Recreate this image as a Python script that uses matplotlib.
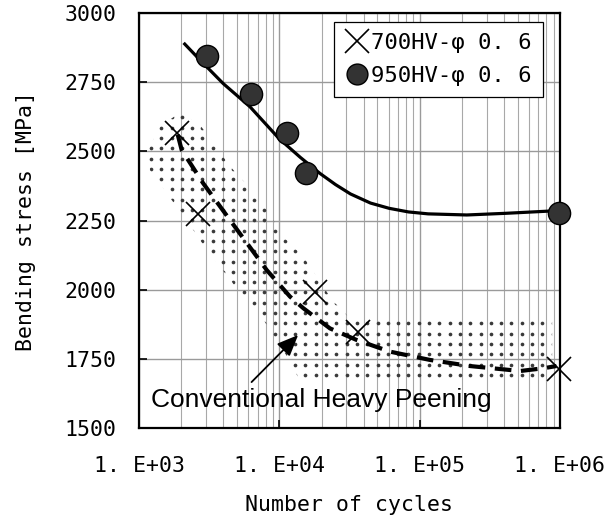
import numpy as np
import matplotlib.pyplot as plt
from matplotlib.ticker import FixedLocator, NullFormatter
from matplotlib.lines import Line2D

# 950HV-φ0.6 (circles)
hv950_n = [3050, 6250, 11250, 15450, 980000]
hv950_s = [2845, 2708, 2566, 2421, 2278]
# 950HV trend curve
hv950_fit_logn = [3.318, 3.435, 3.60, 3.791, 4.0, 4.15, 4.29, 4.40, 4.507, 4.65, 4.783,
                  4.92, 5.06, 5.336, 5.613, 6.0]
hv950_fit_s = [2892, 2830, 2745, 2661, 2545, 2478, 2420, 2380, 2346, 2313, 2294,
               2281, 2274, 2270, 2276, 2286]

# 700HV-φ0.6 (crosses)
hv700_n = [1860, 2650, 17950, 36500, 980000]
hv700_s = [2565, 2273, 1993, 1848, 1713]
# 700HV trend curve (dashed)
hv700_fit_logn = [3.276, 3.304, 3.458, 3.684, 3.910, 4.076, 4.171, 4.361, 4.552, 4.789,
                  5.074, 5.359, 5.716, 5.882, 5.975]
hv700_fit_s = [2560, 2505, 2384, 2227, 2071, 1975, 1933, 1860, 1818, 1776,
               1746, 1724, 1706, 1716, 1724]

# conventional heavy peening scatter band (outline, log10 N / stress)
band_logn = [3.066, 3.15, 3.292, 3.435, 3.506, 3.589, 3.661, 3.791, 3.886, 3.957,
             4.017, 4.171, 4.242, 4.385, 4.456, 4.504, 5.944, 5.944, 4.148, 4.088,
             3.946, 3.875, 3.732, 3.661, 3.577, 3.435, 3.34, 3.233, 3.15, 3.078]
band_s = [2505, 2590, 2640, 2595, 2547, 2487, 2439, 2366, 2306, 2252,
          2197, 2119, 2065, 1956, 1925, 1890, 1890, 1666, 1666, 1734,
          1842, 1902, 1975, 2029, 2083, 2179, 2252, 2324, 2384, 2432]

x_ticks = [1e3, 1e4, 1e5, 1e6]
x_labels = ["1. E+03", "1. E+04", "1. E+05", "1. E+06"]
y_ticks = [1500, 1750, 2000, 2250, 2500, 2750, 3000]

mono = "DejaVu Sans Mono"

fig = plt.figure(figsize=(6.11, 5.2), dpi=100)
ax = fig.add_axes([0.2275, 0.1769, 0.689, 0.7981])

ax.set_xscale("log")
ax.set_xlim(1e3, 1e6)
ax.set_ylim(1500, 3000)

# grid
minor = [m * 10**e for e in range(3, 6) for m in range(2, 10)]
ax.xaxis.set_minor_locator(FixedLocator(minor))
ax.xaxis.set_minor_formatter(NullFormatter())
ax.set_xticks(x_ticks)
ax.set_xticklabels(x_labels)
ax.set_yticks(y_ticks)
ax.grid(True, which="major", color="#9a9a9a", lw=1.0, zorder=0)
ax.grid(True, which="minor", axis="x", color="#a8a8a8", lw=0.8, zorder=0)
ax.set_axisbelow(True)
ax.tick_params(which="major", direction="in", length=6, width=1.2,
               top=False, right=False)
ax.tick_params(axis="x", pad=20)
ax.tick_params(axis="y", pad=16)
ax.tick_params(which="minor", length=0)
for lab in ax.get_xticklabels() + ax.get_yticklabels():
    lab.set_family(mono)
    lab.set_fontsize(15.5)
for sp in ax.spines.values():
    sp.set_linewidth(1.6)

# scatter band: outline patch, filled with a dot screen
band = ax.fill(10 ** np.array(band_logn), band_s, facecolor="none", lw=0, zorder=1)[0]
gx, gy = np.meshgrid(np.arange(0.004, 1, 10.3 / 421), np.arange(0.004, 1, 10.3 / 415))
dots = ax.scatter(gx.ravel(), gy.ravel(), s=7, color="#3a3a3a", lw=0,
                  transform=ax.transAxes, zorder=1)
dots.set_clip_path(band)

# curves
ax.plot(10 ** np.array(hv950_fit_logn), hv950_fit_s, color="black", lw=2.3, zorder=3,
        solid_capstyle="butt")
ax.plot(10 ** np.array(hv700_fit_logn), hv700_fit_s, color="black", lw=3.0, zorder=3,
        dashes=(4, 2.3))

# data points
ax.plot(hv950_n, hv950_s, "o", ms=16, mfc="#333333", mec="black", mew=1.0, zorder=4,
        clip_on=False)
ax.plot(hv700_n, hv700_s, "x", ms=17, mec="black", mew=1.2, zorder=4, clip_on=False)

# annotation
ax.annotate("", xy=(10**4.134, 1836), xytext=(10**3.802, 1666),
            arrowprops=dict(arrowstyle="-|>,head_length=1.3,head_width=0.55",
                            color="black", lw=1.3, shrinkA=0, shrinkB=0), zorder=5)
ax.text(10**3.083, 1600, "Conventional Heavy Peening", family="Liberation Sans",
        fontsize=19, va="center", ha="left", zorder=5)

# legend
handles = [Line2D([], [], ls="none", marker="x", ms=17, mec="black", mew=1.2),
           Line2D([], [], ls="none", marker="o", ms=15, mfc="#333333", mec="black", mew=1.0)]
leg = ax.legend(handles, ["700HV-\u03c6 0. 6", "950HV-\u03c6 0. 6"],
                loc="upper right", bbox_to_anchor=(0.959, 0.979),
                prop={"family": mono, "size": 16}, frameon=True, fancybox=False,
                edgecolor="black", framealpha=1, handlelength=1.0, handletextpad=0.15,
                borderpad=0.5, labelspacing=0.6, borderaxespad=0)
leg.get_frame().set_linewidth(0.9)

ax.set_xlabel("Number of cycles", family=mono, fontsize=15.5, labelpad=14)
ax.set_ylabel("Bending stress [MPa]", family=mono, fontsize=15.5, labelpad=21)

fig.savefig("out.png", dpi=100)
